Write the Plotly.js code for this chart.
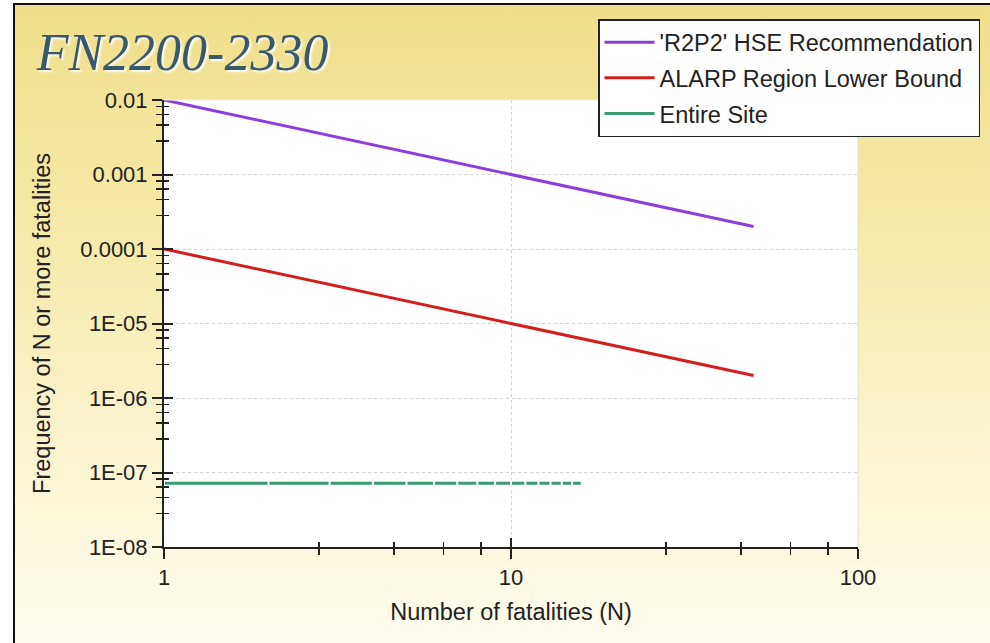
<!DOCTYPE html>
<html>
<head>
<meta charset="utf-8">
<script src="https://cdn.plot.ly/plotly-3.0.1.min.js"></script>
<style>
  html, body { margin: 0; padding: 0; background: #ffffff; }
  #frame {
    position: absolute; left: 13px; top: 3px; width: 977px; height: 640px;
    border-top: 2px solid #111; border-left: 2px solid #111;
    background: linear-gradient(to bottom, #efdf8c 0%, #f5eaa8 35%, #fbf4cf 70%, #fffdf0 100%);
  }
  #chart { position: absolute; left: 0; top: 0; width: 990px; height: 643px; }
</style>
</head>
<body>
<div id="frame"></div>
<div id="chart"></div>
<script>
// ---- data ----
const refN = [1, 50];
const r2p2Freq = [0.01, 0.0002];
const alarpFreq = [0.0001, 0.000002];
const siteN = [1, 2, 3, 4, 5, 6, 7, 8, 9, 10, 11, 12, 13, 14, 15, 16];
const siteFreq = [7.2e-8, 7.2e-8, 7.2e-8, 7.2e-8, 7.2e-8, 7.2e-8, 7.2e-8, 7.2e-8,
                  7.2e-8, 7.2e-8, 7.2e-8, 7.2e-8, 7.2e-8, 7.2e-8, 7.2e-8, 7.2e-8];
const seriesNames = ["'R2P2' HSE Recommendation", "ALARP Region Lower Bound", "Entire Site"];

// ---- ticks ----
const xTickVals = [1, 10, 100];
const xTickText = ["1", "10", "100"];
const xMinorVals = [2.8, 4.6, 6.4, 8.2, 28, 46, 64, 82];
const yTickVals = [1e-8, 1e-7, 1e-6, 1e-5, 1e-4, 1e-3, 1e-2];
const yTickText = ["1E-08", "1E-07", "1E-06", "1E-05", "0.0001", "0.001", "0.01"];
const yDecades = [1e-8, 1e-7, 1e-6, 1e-5, 1e-4, 1e-3];
const yMinorMult = [2.8, 4.6, 6.4, 8.2];
const yMinorVals = [];
yDecades.forEach(d => yMinorMult.forEach(m => yMinorVals.push(d * m)));

const FONT = "Liberation Sans, Arial, sans-serif";

const traces = [
  { x: refN, y: r2p2Freq, name: seriesNames[0], mode: "lines",
    line: { color: "#8b3fd9", width: 3 }, legendgroup: "a" },
  { x: refN, y: alarpFreq, name: seriesNames[1], mode: "lines",
    line: { color: "#d0201e", width: 3 }, legendgroup: "b" },
  { x: siteN, y: siteFreq, name: seriesNames[2], mode: "lines",
    line: { color: "#3a9d72", width: 3 }, legendgroup: "c" },
  { x: siteN, y: siteFreq, mode: "markers", showlegend: false, hoverinfo: "skip",
    marker: { symbol: "line-ns", size: 5, line: { color: "#ffffff", width: 2 } } },
  // invisible carrier so the overlay (inside-tick) axes get drawn
  { x: refN, y: r2p2Freq, xaxis: "x2", yaxis: "y2", mode: "lines", showlegend: false,
    hoverinfo: "skip", opacity: 0, line: { width: 0 } }
];

const layout = {
  width: 990, height: 643,
  margin: { l: 164, r: 132, t: 100, b: 96, autoexpand: false },
  paper_bgcolor: "rgba(0,0,0,0)",
  plot_bgcolor: "#ffffff",
  showlegend: true,
  title: {
    text: "FN2200-2330",
    font: { family: "Liberation Serif, Times New Roman, serif", size: 52, style: "italic",
            color: "#38596b", shadow: "2px 2px 2px rgba(255,255,255,0.9)" },
    xref: "container", x: 0.037, xanchor: "left",
    yref: "container", y: 0.8906, yanchor: "bottom"
  },
  xaxis: {
    type: "log", range: [0, 2],
    tickmode: "array", tickvals: xTickVals, ticktext: xTickText,
    ticks: "outside", ticklen: 10, tickwidth: 2, tickcolor: "#222",
    minor: { tickmode: "array", tickvals: xMinorVals, ticks: "outside", ticklen: 6, tickwidth: 1.5, tickcolor: "#222", showgrid: false },
    showline: true, linecolor: "#222", linewidth: 2,
    mirror: false,
    showgrid: true, gridcolor: "#d2d2d2", griddash: "dot", gridwidth: 1,
    zeroline: false,
    tickfont: { family: FONT, size: 22, color: "#222" },
    title: { text: "Number of fatalities (N)", font: { family: FONT, size: 23.5, color: "#222" }, standoff: 14 }
  },
  yaxis: {
    type: "log", range: [-8, -2],
    tickmode: "array", tickvals: yTickVals, ticktext: yTickText,
    ticks: "outside", ticklen: 10, tickwidth: 2, tickcolor: "#222",
    minor: { tickmode: "array", tickvals: yMinorVals, ticks: "outside", ticklen: 6, tickwidth: 1.5, tickcolor: "#222", showgrid: false },
    showline: true, linecolor: "#222", linewidth: 2,
    showgrid: true, gridcolor: "#d2d2d2", griddash: "dot", gridwidth: 1,
    zeroline: false,
    tickfont: { family: FONT, size: 22, color: "#222" },
    title: { text: "Frequency of N or more fatalities", font: { family: FONT, size: 23.5, color: "#222" }, standoff: 23 }
  },
  xaxis2: {
    type: "log", range: [0, 2], overlaying: "x", anchor: "y2", side: "bottom",
    tickmode: "array", tickvals: xTickVals, showticklabels: false,
    ticks: "inside", ticklen: 9, tickwidth: 2, tickcolor: "#222",
    minor: { tickmode: "array", tickvals: xMinorVals, ticks: "inside", ticklen: 5, tickwidth: 1.5, tickcolor: "#222", showgrid: false },
    showline: false, showgrid: false, zeroline: false
  },
  yaxis2: {
    type: "log", range: [-8, -2], overlaying: "y", anchor: "x2", side: "left",
    tickmode: "array", tickvals: yTickVals, showticklabels: false,
    ticks: "inside", ticklen: 9, tickwidth: 2, tickcolor: "#222",
    minor: { tickmode: "array", tickvals: yMinorVals, ticks: "inside", ticklen: 5, tickwidth: 1.5, tickcolor: "#222", showgrid: false },
    showline: false, showgrid: false, zeroline: false
  },
  legend: {
    x: 0.6254, xanchor: "left", y: 1.1812, yanchor: "top",
    bgcolor: "#ffffff", bordercolor: "#222", borderwidth: 1.5,
    font: { family: FONT, size: 23.5, color: "#222" },
    traceorder: "grouped", tracegroupgap: 2, itemwidth: 50
  },
  shapes: [
    { type: "line", xref: "paper", yref: "paper", x0: 0.6254, x1: 1.1758, y0: 1.0850, y1: 1.0850, line: { color: "#444", width: 1 } },
    { type: "line", xref: "paper", yref: "paper", x0: 0.6254, x1: 1.1758, y0: 1.0045, y1: 1.0045, line: { color: "#444", width: 1 } },
    { type: "line", xref: "paper", yref: "paper", x0: 1, x1: 1, y0: 0, y1: 1, line: { color: "#dddddd", width: 1 } },
    { type: "line", xref: "paper", yref: "paper", x0: 0, x1: 1, y0: 1, y1: 1, line: { color: "#eeeeee", width: 1 } }
  ]
};

Plotly.newPlot("chart", traces, layout, { displayModeBar: false, staticPlot: true });
</script>
</body>
</html>
